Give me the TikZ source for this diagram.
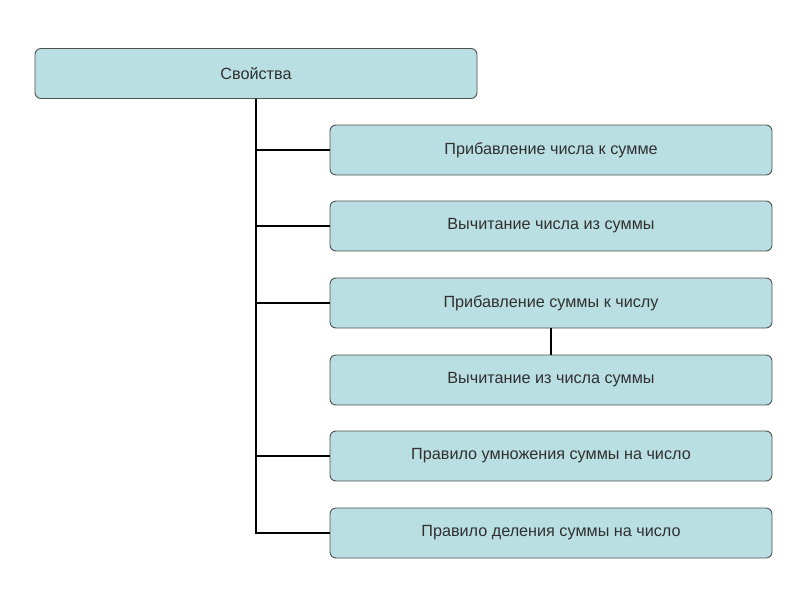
\documentclass[tikz,border=0pt]{standalone}
\usepackage{fontspec}
\setmainfont{Liberation Sans}
\definecolor{boxfill}{HTML}{B9DFE2}
\definecolor{boxline}{HTML}{505050}
\definecolor{txt}{HTML}{303030}
\begin{document}
\begin{tikzpicture}[x=1pt,y=-1pt,
  box/.style={draw=boxline, line width=0.9pt, fill=boxfill, rounded corners=6pt,
    minimum height=50pt, inner sep=0pt, text=txt, font=\fontsize{16.2}{19}\selectfont},
  topbox/.style={box, minimum width=442pt},
  childbox/.style={box, minimum width=442pt},
  link/.style={draw=black, line width=2pt}]
\useasboundingbox[fill=white] (0,0) rectangle (800,600);
\node[topbox] (top) at (256,73.5) {Свойства};
\node[childbox] (c1) at (551,150) {Прибавление числа к сумме};
\node[childbox] (c2) at (551,226) {Вычитание числа из суммы};
\node[childbox] (c3) at (551,303) {Прибавление суммы к числу};
\node[childbox] (c4) at (551,380) {Вычитание из числа суммы};
\node[childbox] (c5) at (551,456) {Правило умножения суммы на число};
\node[childbox] (c6) at (551,533) {Правило деления суммы на число};
\draw[link] (top.south) |- (c6.west);
\draw[link] (top.south |- c1.west) -- (c1.west);
\draw[link] (top.south |- c2.west) -- (c2.west);
\draw[link] (top.south |- c3.west) -- (c3.west);
\draw[link] (top.south |- c5.west) -- (c5.west);
\draw[link] (c3.south) -- (c4.north);
\end{tikzpicture}
\end{document}
